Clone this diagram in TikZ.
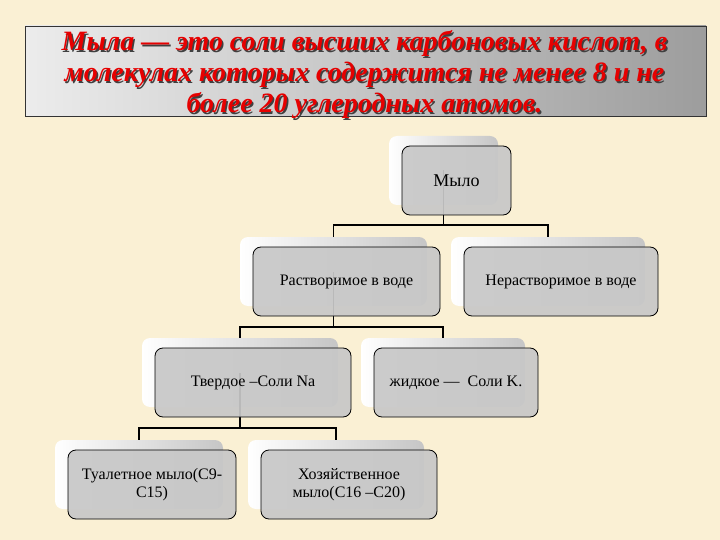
\documentclass[tikz,border=0pt]{standalone}
\usepackage{fontspec}
\setmainfont{Liberation Serif}
\newfontfamily\tnr{Liberation Serif}
\usetikzlibrary{calc}
\definecolor{bg}{RGB}{250,240,212}
\definecolor{boxgray}{RGB}{200,200,200}
\definecolor{titlered}{RGB}{230,0,0}
\tikzset{
  front/.style={draw=black, line width=0.8pt, rounded corners=8pt, fill=boxgray, fill opacity=0.93, text opacity=1,
    minimum height=69pt, inner sep=2pt, align=center, font=\tnr\fontsize{16}{18}\selectfont},
  back/.style={rounded corners=8pt, left color=white, right color=gray!45, minimum height=69pt, draw=none},
  conn/.style={draw=black, line width=1.6pt},
  ttl/.style={font=\tnr\fontsize{28}{31}\selectfont\bfseries\itshape, align=center},
}
\begin{document}
\begin{tikzpicture}[x=1pt,y=1pt]
\useasboundingbox (0,0) rectangle (720,-540);
\fill[bg] (0,0) rectangle (720,-540);
% title
\shade[left color=gray!15, right color=gray!90!black!70, draw=black!80, line width=0.8pt] (25,-26) rectangle (706,-116);
\node[ttl, text=black!75] at (366,-76.5) {Мыла — это соли высших карбоновых кислот, в\\молекулах которых содержится не менее 8 и не\\более 20 углеродных атомов.};
\node (title) [ttl, text=titlered] at (364.5,-75) {Мыла — это соли высших карбоновых кислот, в\\молекулах которых содержится не менее 8 и не\\более 20 углеродных атомов.};
% back boxes
\node[back, minimum width=109pt] (mylob) at (443.5,-170.5) {};
\node[back, minimum width=187pt] (rastb) at (333.5,-271.5) {};
\node[back, minimum width=194pt] (nerastb) at (548,-271.5) {};
\node[back, minimum width=196pt] (tverdb) at (240,-372.5) {};
\node[back, minimum width=164pt] (zhidb) at (443,-372.5) {};
\node[back, minimum width=168pt] (tualb) at (139,-474.5) {};
\node[back, minimum width=176pt] (hozb) at (336,-474.5) {};
% connectors
\draw[conn] (mylob.center) -- (mylob.center |- 0,-225) -| (rastb.north);
\draw[conn] (mylob.center |- 0,-225) -| (nerastb.north);
\draw[conn] (rastb.center) -- (rastb.center |- 0,-327) -| (tverdb.north);
\draw[conn] (rastb.center |- 0,-327) -| (zhidb.north);
\draw[conn] (tverdb.center) -- (tverdb.center |- 0,-428) -| (tualb.north);
\draw[conn] (tverdb.center |- 0,-428) -| (hozb.north);
% front boxes
\node[front, minimum width=109pt, font=\tnr\fontsize{18}{20}\selectfont] (mylo) at (456.5,-180.5) {Мыло};
\node[front, minimum width=187pt] (rast) at (346.5,-281.5) {Растворимое в воде};
\node[front, minimum width=194pt] (nerast) at (561,-281.5) {Нерастворимое в воде};
\node[front, minimum width=196pt] (tverd) at (253,-382.5) {Твердое –Соли Na};
\node[front, minimum width=164pt] (zhid) at (456,-382.5) {жидкое —\ \ Соли\ K.};
\node[front, minimum width=168pt] (tual) at (152,-484.5) {Туалетное мыло(C9-\\C15)};
\node[front, minimum width=176pt] (hoz) at (349,-484.5) {Хозяйственное\\мыло(C16 –C20)};
\end{tikzpicture}
\end{document}
